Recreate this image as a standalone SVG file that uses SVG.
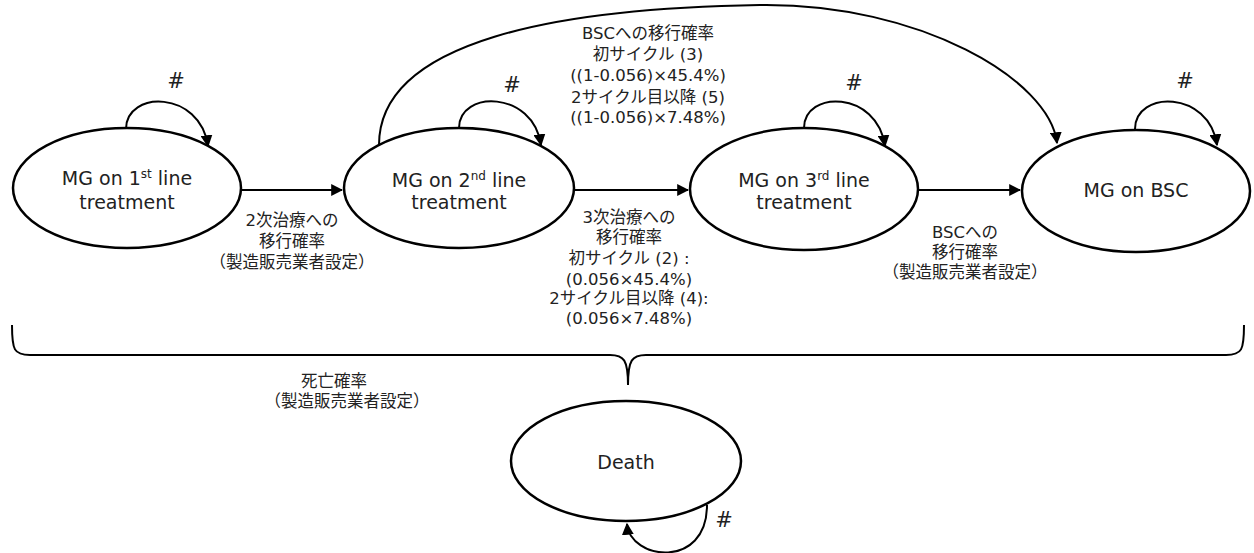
<svg xmlns="http://www.w3.org/2000/svg" width="1254" height="553" viewBox="0 0 1254 553">
<style>
.node{fill:#fff;stroke:#000;stroke-width:2.5}
.t{font-family:"DejaVu Sans","Noto Sans CJK JP",sans-serif;font-size:19px;fill:#222;text-anchor:middle}
.l{font-family:"DejaVu Sans","Noto Sans CJK JP",sans-serif;font-size:16.5px;fill:#222;text-anchor:middle}
.h{font-family:"DejaVu Sans",sans-serif;font-size:21px;fill:#222;text-anchor:middle}
.c{fill:none;stroke:#000;stroke-width:2}
.sup{font-size:12px}
</style>
<defs>
<marker id="ah" viewBox="0 0 10 10" refX="9" refY="5" markerWidth="6" markerHeight="6" markerUnits="strokeWidth" orient="auto">
<path d="M0,0 L10,5 L0,10 z" fill="#000"/>
</marker>
</defs>
<g id="connectors">
<path class="c" d="M241,190 L342,190" marker-end="url(#ah)"/>
<path class="c" d="M574,190 L688,190" marker-end="url(#ah)"/>
<path class="c" d="M918,190 L1020,190" marker-end="url(#ah)"/>
<path class="c" d="M379,145 C379,40 560,8 760,5 C920,3 1050,80 1057,143" marker-end="url(#ah)"/>
<path class="c" d="M126,129 C126,90 200,90 208,146" marker-end="url(#ah)"/>
<path class="c" d="M459,128 C459,90 533,90 541,145" marker-end="url(#ah)"/>
<path class="c" d="M804,128 C804,90 877,90 885,146" marker-end="url(#ah)"/>
<path class="c" d="M1135,129 C1135,90 1209,90 1217,145" marker-end="url(#ah)"/>
<path class="c" d="M707,505 C707,570 630,560 627,524" marker-end="url(#ah)"/>
<path class="c" d="M12,325 C12,350 14,355 30,355 L610,355 C624,355 628,360 628,385 C628,360 632,355 646,355 L1226,355 C1242,355 1244,350 1244,325"/>
</g>
<g id="loop-labels">
<text class="h" x="176" y="88">#</text>
<text class="h" x="512" y="92">#</text>
<text class="h" x="854" y="90">#</text>
<text class="h" x="1185" y="88">#</text>
<text class="h" x="724" y="527">#</text>
</g>
<g id="node1">
<ellipse class="node" cx="127" cy="188" rx="114" ry="60"/>
<text class="t" x="127" y="185">MG on 1<tspan class="sup" dy="-7">st</tspan><tspan dy="7"> line</tspan></text>
<text class="t" x="127" y="209">treatment</text>
</g>
<g id="node2">
<ellipse class="node" cx="459" cy="188" rx="115" ry="60"/>
<text class="t" x="459" y="187">MG on 2<tspan class="sup" dy="-7">nd</tspan><tspan dy="7"> line</tspan></text>
<text class="t" x="459" y="209">treatment</text>
</g>
<g id="node3">
<ellipse class="node" cx="804" cy="189" rx="114" ry="61"/>
<text class="t" x="804" y="187">MG on 3<tspan class="sup" dy="-7">rd</tspan><tspan dy="7"> line</tspan></text>
<text class="t" x="804" y="209">treatment</text>
</g>
<g id="node4">
<ellipse class="node" cx="1136" cy="191" rx="114" ry="61"/>
<text class="t" x="1136" y="197">MG on BSC</text>
</g>
<g id="death">
<ellipse class="node" cx="626" cy="461" rx="115" ry="60"/>
<text class="t" x="626" y="469">Death</text>
</g>
<g id="edge-labels">
<text class="l" x="292" y="226">2次治療への</text>
<text class="l" x="292" y="247">移行確率</text>
<text class="l" x="292" y="268">（製造販売業者設定）</text>
<text class="l" x="629" y="223">3次治療への</text>
<text class="l" x="629" y="243">移行確率</text>
<text class="l" x="629" y="264">初サイクル (2) :</text>
<text class="l" x="629" y="285">(0.056×45.4%)</text>
<text class="l" x="629" y="304">2サイクル目以降 (4):</text>
<text class="l" x="629" y="324">(0.056×7.48%)</text>
<text class="l" x="648" y="39">BSCへの移行確率</text>
<text class="l" x="648" y="60">初サイクル (3)</text>
<text class="l" x="648" y="81">((1-0.056)×45.4%)</text>
<text class="l" x="648" y="103">2サイクル目以降 (5)</text>
<text class="l" x="648" y="123">((1-0.056)×7.48%)</text>
<text class="l" x="965" y="238">BSCへの</text>
<text class="l" x="965" y="258">移行確率</text>
<text class="l" x="965" y="278">（製造販売業者設定）</text>
<text class="l" x="334" y="387">死亡確率</text>
<text class="l" x="347" y="407">（製造販売業者設定）</text>
</g>
</svg>
